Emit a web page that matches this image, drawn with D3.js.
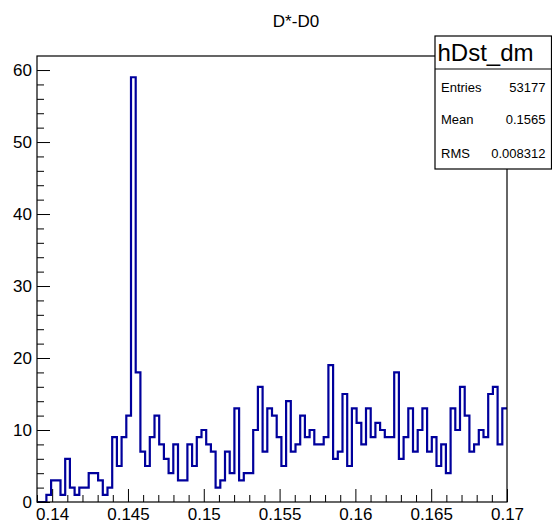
<!DOCTYPE html>
<html>
<head>
<meta charset="utf-8">
<script src="https://cdn.jsdelivr.net/npm/d3@7"></script>
<style>
  html, body { margin: 0; padding: 0; background: #fff; }
  svg { display: block; font-family: "Liberation Sans", Arial, Helvetica, sans-serif; }
</style>
</head>
<body>
<svg id="chart" width="552" height="523"></svg>
<script>
// Histogram definition: 100 equal bins between xRange[0] and xRange[1]
const histName = "hDst_dm";
const histTitle = "D*-D0";
const xRange = [0.139, 0.17];
const counts = [
  0, 0, 1, 3, 3, 1, 6, 2, 1, 2,
  2, 4, 4, 3, 1, 2, 9, 5, 9, 12,
  59, 18, 7, 5, 9, 12, 8, 6, 4, 8,
  3, 3, 8, 5, 9, 10, 8, 7, 2, 3,
  7, 4, 13, 3, 4, 4, 10, 16, 7, 13,
  12, 9, 5, 14, 7, 8, 12, 9, 10, 8,
  8, 9, 19, 6, 7, 15, 5, 13, 11, 8,
  13, 9, 11, 10, 9, 9, 18, 6, 9, 13,
  7, 10, 13, 7, 9, 5, 8, 4, 13, 10,
  16, 12, 7, 8, 10, 9, 15, 16, 8, 13
];

// Statistics box rows
const statLabels = ["Entries", "Mean", "RMS"];
const statValues = ["53177", "0.1565", "0.008312"];

// Axis ticks
const xTickValues = [0.14, 0.145, 0.15, 0.155, 0.16, 0.165, 0.17];
const xTickLabels = ["0.14", "0.145", "0.15", "0.155", "0.16", "0.165", "0.17"];
const xMinorStep = 0.001;
const yTickValues = [0, 10, 20, 30, 40, 50, 60];
const yTickLabels = ["0", "10", "20", "30", "40", "50", "60"];
const yMinorStep = 2;

// Layout
const frame = { left: 37, right: 507, top: 56, bottom: 502 };
const majorLen = 13, minorLen = 7;
const lineColor = "#00009c";

const svg = d3.select("#chart");

const yMax = d3.max(counts) * 1.05;
const x = d3.scaleLinear().domain(xRange).range([frame.left, frame.right]);
const y = d3.scaleLinear().domain([0, yMax]).range([frame.bottom, frame.top]);

const nBins = counts.length;
const binWidth = (xRange[1] - xRange[0]) / nBins;

// Step outline of the histogram (no closing drop at the right edge)
const pts = [];
counts.forEach((c, i) => {
  const lo = xRange[0] + i * binWidth;
  pts.push([lo, c], [lo + binWidth, c]);
});

const line = d3.line().x(d => x(d[0])).y(d => y(d[1]));
svg.append("path")
  .attr("d", line(pts))
  .attr("fill", "none")
  .attr("stroke", lineColor)
  .attr("stroke-width", 2.2)
  .attr("stroke-linejoin", "miter");

// Minor ticks
const xMinor = d3.range(Math.ceil(xRange[0] / xMinorStep - 1e-6), Math.floor(xRange[1] / xMinorStep + 1e-6) + 1)
  .map(k => +(k * xMinorStep).toFixed(4))
  .filter(v => !xTickValues.some(t => Math.abs(t - v) < 1e-7));
svg.append("g")
  .attr("transform", `translate(0,${frame.bottom})`)
  .call(d3.axisBottom(x).tickValues(xMinor).tickSize(-minorLen).tickFormat(""))
  .call(g => g.select(".domain").remove())
  .call(g => g.selectAll("line").attr("stroke", "#000"));

const yMinor = d3.range(0, yMax, yMinorStep).filter(v => !yTickValues.includes(v));
svg.append("g")
  .attr("transform", `translate(${frame.left},0)`)
  .call(d3.axisLeft(y).tickValues(yMinor).tickSize(-minorLen).tickFormat(""))
  .call(g => g.select(".domain").remove())
  .call(g => g.selectAll("line").attr("stroke", "#000"));

// Major ticks with labels
svg.append("g")
  .attr("transform", `translate(0,${frame.bottom})`)
  .call(d3.axisBottom(x).tickValues(xTickValues).tickSize(-majorLen).tickPadding(6)
    .tickFormat((d, i) => xTickLabels[i]))
  .call(g => g.select(".domain").remove())
  .call(g => g.selectAll("line").attr("stroke", "#000"))
  .call(g => g.selectAll("text").attr("font-size", 17).attr("fill", "#000")
    .attr("font-family", "Liberation Sans, Arial, sans-serif"));

svg.append("g")
  .attr("transform", `translate(${frame.left},0)`)
  .call(d3.axisLeft(y).tickValues(yTickValues).tickSize(-majorLen).tickPadding(5)
    .tickFormat((d, i) => yTickLabels[i]))
  .call(g => g.select(".domain").remove())
  .call(g => g.selectAll("line").attr("stroke", "#000"))
  .call(g => g.selectAll("text").attr("font-size", 17).attr("fill", "#000")
    .attr("font-family", "Liberation Sans, Arial, sans-serif"));

// Frame
svg.append("rect")
  .attr("x", frame.left).attr("y", frame.top)
  .attr("width", frame.right - frame.left).attr("height", frame.bottom - frame.top)
  .attr("fill", "none").attr("stroke", "#000").attr("stroke-width", 1.2);

// Title
svg.append("text")
  .attr("x", 296).attr("y", 27)
  .attr("text-anchor", "middle")
  .attr("font-size", 17)
  .text(histTitle);

// Statistics box
const box = { x: 435, y: 36, w: 116.5, h: 133, header: 33 };
const stats = svg.append("g");
stats.append("rect")
  .attr("x", box.x).attr("y", box.y).attr("width", box.w).attr("height", box.h)
  .attr("fill", "#fff").attr("stroke", "#000").attr("stroke-width", 1.2);
stats.append("line")
  .attr("x1", box.x).attr("x2", box.x + box.w)
  .attr("y1", box.y + box.header).attr("y2", box.y + box.header)
  .attr("stroke", "#000").attr("stroke-width", 1.2);
stats.append("text")
  .attr("x", box.x + 2.5).attr("y", box.y + 25)
  .attr("font-size", 24)
  .text(histName);
const rowY = [92, 124, 158];
statLabels.forEach((lab, i) => {
  stats.append("text").attr("x", box.x + 6).attr("y", rowY[i])
    .attr("font-size", 13).text(lab);
  stats.append("text").attr("x", box.x + box.w - 6).attr("y", rowY[i])
    .attr("text-anchor", "end").attr("font-size", 13).text(statValues[i]);
});
</script>
</body>
</html>
